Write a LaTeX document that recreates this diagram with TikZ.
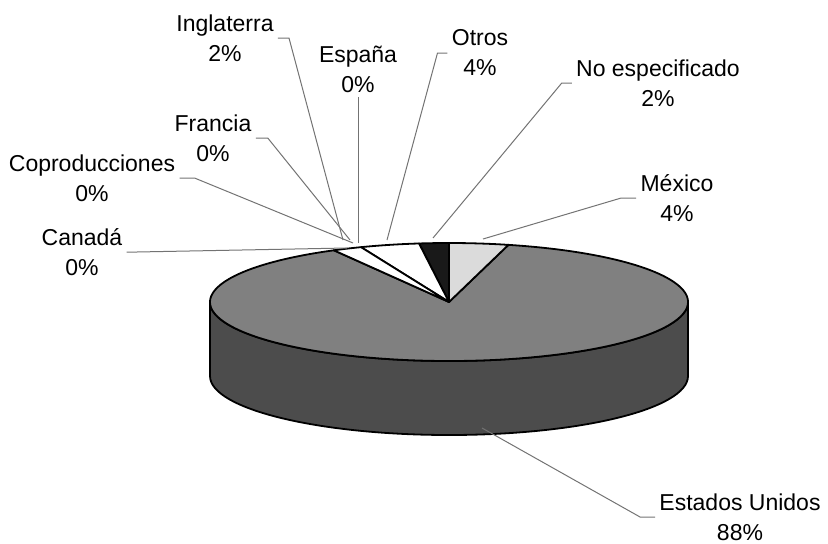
\documentclass[tikz,border=0pt]{standalone}
\usepackage{fontspec}
\setmainfont{Liberation Sans}
\definecolor{usatop}{gray}{0.50}
\definecolor{usaside}{gray}{0.30}
\definecolor{mexfill}{gray}{0.86}
\definecolor{noespfill}{gray}{0.10}
\tikzset{
  slice/.style={draw=black, line width=.9pt, line join=round},
  leader/.style={draw=black!55, line width=.5pt},
  etiq/.style={align=center, inner sep=2pt},
}
\begin{document}
\begin{tikzpicture}[x=0.5pt, y=0.5pt, font=\fontsize{11.5}{15}\selectfont]
  \useasboundingbox (0,0) rectangle (828,543);
  \coordinate (top) at (449,241); % centro de la cara superior
  % costado
  \draw [slice, fill=usaside] (210,241) arc [start angle=180, end angle=360, x radius=239, y radius=59]
     -- (688,167) arc [start angle=0, end angle=-180, x radius=239, y radius=59] -- cycle;
  % cara superior
  \draw [slice, fill=usatop] (top) -- ++(75.6:239 and 59) arc [start angle=75.6, end angle=-241.2, x radius=239, y radius=59] -- cycle;
  \draw [slice, fill=mexfill] (top) -- ++(75.6:239 and 59) arc [start angle=75.6, end angle=90, x radius=239, y radius=59] -- cycle;
  \draw [slice, fill=noespfill] (top) -- ++(90:239 and 59) arc [start angle=90, end angle=97.2, x radius=239, y radius=59] -- cycle;
  \draw [slice, fill=white] (top) -- ++(97.2:239 and 59) arc [start angle=97.2, end angle=111.6, x radius=239, y radius=59] -- cycle;
  \draw [slice, fill=white] (top) -- ++(111.6:239 and 59) arc [start angle=111.6, end angle=118.8, x radius=239, y radius=59] -- cycle;
  % puntos de las guias
  \coordinate (ingl-p) at (343,303);
  \coordinate (espana-p) at (358,300);
  \coordinate (francia-p) at (350,303);
  \coordinate (copro-p) at (353,300);
  \coordinate (canada-p) at (347,295);
  \coordinate (otros-p) at (387,303);
  \coordinate (noesp-p) at (433,305);
  \coordinate (mexico-p) at (483,304);
  \coordinate (eeuu-p) at (482,115);
  % etiquetas
  \node [etiq] (ingl) at (225,505) {Inglaterra\\2\%};
  \node [etiq] (espana) at (358,474) {España\\0\%};
  \node [etiq] (francia) at (213,405) {Francia\\0\%};
  \node [etiq] (copro) at (92,365) {Coproducciones\\0\%};
  \node [etiq] (canada) at (82,291) {Canadá\\0\%};
  \node [etiq] (otros) at (480,490) {Otros\\4\%};
  \node [etiq] (noesp) at (658,460) {No especificado\\2\%};
  \node [etiq] (mexico) at (677,345) {México\\4\%};
  \node [etiq] (eeuu) at (740,26) {Estados Unidos\\88\%};
  % guias
  \draw [leader] (ingl.east) -- ++(11,0) -- (ingl-p);
  \draw [leader] (espana.south) -- (espana-p);
  \draw [leader] (francia.east) -- ++(12,0) -- (francia-p);
  \draw [leader] (copro.east) -- ++(15,0) -- (copro-p);
  \draw [leader] (canada.east) -- ++(10,0) -- (canada-p);
  \draw [leader] (otros.west) -- ++(-10,0) -- (otros-p);
  \draw [leader] (noesp.west) -- ++(-10,0) -- (noesp-p);
  \draw [leader] (mexico.west) -- ++(-15,0) -- (mexico-p);
  \draw [leader] (eeuu.west) -- ++(-15,0) -- (eeuu-p);
\end{tikzpicture}
\end{document}
